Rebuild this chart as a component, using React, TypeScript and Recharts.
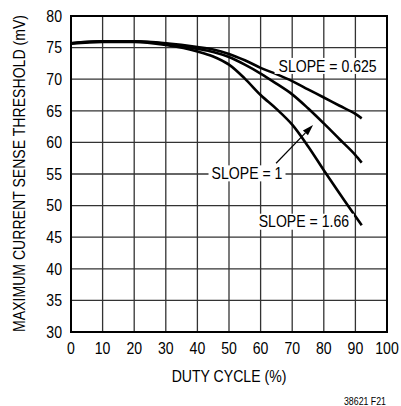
import React from "react";
import {
  LineChart,
  Line,
  XAxis,
  YAxis,
  CartesianGrid,
  ReferenceDot,
  ReferenceLine,
  ReferenceArea,
} from "recharts";

const dutyCycle = [0, 10, 20, 30, 40, 45, 50, 55, 60, 65, 70, 75, 80, 85, 90, 92];
const slope0625 = [75.7, 76.0, 76.0, 75.7, 75.1, 74.7, 74.0, 73.0, 71.8, 70.8, 69.7, 68.4, 67.1, 65.8, 64.5, 63.8];
const slope1 = [75.7, 76.0, 76.0, 75.6, 74.8, 74.3, 73.5, 72.3, 70.9, 69.3, 67.6, 65.4, 63.0, 60.5, 58.0, 56.8];
const slope166 = [75.6, 75.9, 75.9, 75.4, 74.4, 73.6, 72.3, 70.1, 67.5, 65.3, 62.8, 59.4, 55.6, 51.9, 48.3, 46.9];

const xTicks = [0, 10, 20, 30, 40, 50, 60, 70, 80, 90, 100];
const yTicks = [30, 35, 40, 45, 50, 55, 60, 65, 70, 75, 80];

const data = dutyCycle.map((d, i) => ({
  d,
  a: slope0625[i],
  b: slope1[i],
  c: slope166[i],
}));

const FONT = "'Liberation Sans', Arial, sans-serif";
const FS = 16;
const SX = 0.88;

const XTick = (props: any) => {
  const { x, y, payload } = props;
  return (
    <text
      transform={`translate(${x},${y}) scale(${SX},1)`}
      textAnchor="middle"
      dy="0.71em"
      fontFamily={FONT}
      fontSize={FS}
      fill="#000"
    >
      {payload.value}
    </text>
  );
};

const YTick = (props: any) => {
  const { x, y, payload } = props;
  return (
    <text
      transform={`translate(${x},${y}) scale(${SX},1)`}
      textAnchor="end"
      dy="0.36em"
      fontFamily={FONT}
      fontSize={FS}
      fill="#000"
    >
      {payload.value}
    </text>
  );
};

const labelShape = (text: string, w: number) => (props: any) => {
  const { cx, cy } = props;
  return (
    <g>
      <rect x={cx - w / 2} y={cy - 8} width={w} height={16} fill="#fff" />
      <text
        transform={`translate(${cx},${cy}) scale(${SX},1)`}
        dy="0.36em"
        textAnchor="middle"
        fontFamily={FONT}
        fontSize={FS}
        fill="#000"
      >
        {text}
      </text>
    </g>
  );
};

const arrowShape = (props: any) => {
  const { x1, y1, x2, y2 } = props;
  const ang = Math.atan2(y2 - y1, x2 - x1);
  const L = 11;
  const W = 3.5;
  const bx = x2 - L * Math.cos(ang);
  const by = y2 - L * Math.sin(ang);
  const px = -Math.sin(ang) * W;
  const py = Math.cos(ang) * W;
  return (
    <g>
      <line x1={x1} y1={y1} x2={bx} y2={by} stroke="#000" strokeWidth={1.2} />
      <polygon
        points={`${x2},${y2} ${bx + px},${by + py} ${bx - px},${by - py}`}
        fill="#000"
      />
    </g>
  );
};

export default function App() {
  return (
    <div style={{ position: "absolute", left: 0, top: 0, background: "#fff" }}>
      <LineChart
        width={401}
        height={406}
        data={data}
        margin={{ top: 16, right: 14, bottom: 0, left: 0 }}
      >
        <CartesianGrid
          stroke="#333"
          strokeWidth={1.3}
          horizontalValues={yTicks}
          verticalValues={xTicks}
        />
        <XAxis
          dataKey="d"
          type="number"
          domain={[0, 100]}
          ticks={xTicks}
          interval={0}
          height={74}
          tickSize={0}
          tickMargin={11}
          axisLine={false}
          tick={<XTick />}
        />
        <YAxis
          type="number"
          domain={[30, 80]}
          ticks={yTicks}
          interval={0}
          width={71}
          tickSize={0}
          tickMargin={9}
          axisLine={false}
          tick={<YTick />}
        />
        <ReferenceArea
          x1={0}
          x2={100}
          y1={30}
          y2={80}
          fill="none"
          stroke="#000"
          strokeWidth={2}
          fillOpacity={0}
        />
        <Line dataKey="a" type="monotone" stroke="#000" strokeWidth={2.6} dot={false} isAnimationActive={false} />
        <Line dataKey="b" type="monotone" stroke="#000" strokeWidth={2.6} dot={false} isAnimationActive={false} />
        <Line dataKey="c" type="monotone" stroke="#000" strokeWidth={2.6} dot={false} isAnimationActive={false} />
        <ReferenceLine
          segment={[
            { x: 64.9, y: 56.7 },
            { x: 76.6, y: 62.75 },
          ]}
          shape={arrowShape}
        />
        <ReferenceDot x={81.2} y={72.1} r={0} shape={labelShape("SLOPE = 0.625", 106)} />
        <ReferenceDot x={55.7} y={55.1} r={0} shape={labelShape("SLOPE = 1", 77)} />
        <ReferenceDot x={73.7} y={47.45} r={0} shape={labelShape("SLOPE = 1.66", 100)} />
      </LineChart>
      <svg
        width={401}
        height={406}
        style={{ position: "absolute", left: 0, top: 0, pointerEvents: "none" }}
      >
        <text
          transform={`translate(19,173.5) rotate(-90) scale(${SX},1)`}
          textAnchor="middle"
          dy="0.36em"
          fontFamily={FONT}
          fontSize={FS}
          fill="#000"
        >
          MAXIMUM CURRENT SENSE THRESHOLD (mV)
        </text>
        <text
          transform={`translate(229,382) scale(${SX},1)`}
          textAnchor="middle"
          fontFamily={FONT}
          fontSize={FS}
          fill="#000"
        >
          DUTY CYCLE (%)
        </text>
        <text
          transform={`translate(386,405) scale(${SX},1)`}
          textAnchor="end"
          fontFamily={FONT}
          fontSize={10}
          fill="#000"
        >
          38621 F21
        </text>
      </svg>
    </div>
  );
}
